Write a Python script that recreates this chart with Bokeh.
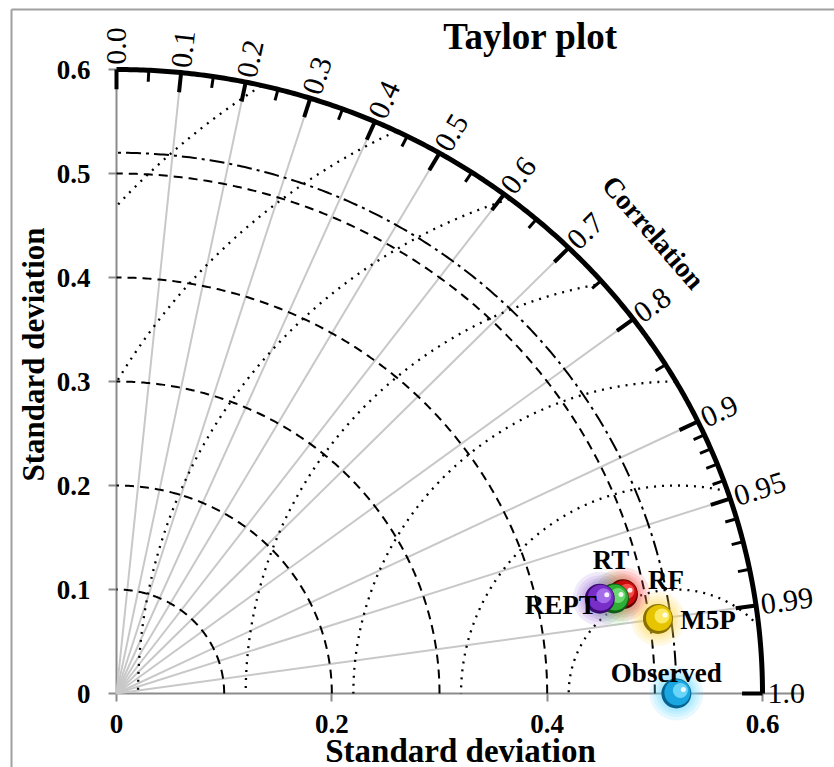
import numpy as np
from bokeh.plotting import figure
from bokeh.models import Range1d, LinearAxis, FixedTicker, ColumnDataSource
from bokeh.core.properties import value
from bokeh.embed import file_html
from bokeh.resources import INLINE

# ---------------- data ----------------
models = ["Observed", "M5P", "RF", "RT", "REPT"]
model_std = [0.520, 0.508, 0.480, 0.471, 0.458]
model_corr = [1.000, 0.990, 0.980, 0.981, 0.980]
ref_std = 0.52
max_std = 0.6

y_ticks = [0, 0.1, 0.2, 0.3, 0.4, 0.5, 0.6]
y_tick_labels = ["0", "0.1", "0.2", "0.3", "0.4", "0.5", "0.6"]
x_ticks = [0, 0.2, 0.4, 0.6]
x_tick_labels = ["0", "0.2", "0.4", "0.6"]

corr_major = [0.0, 0.1, 0.2, 0.3, 0.4, 0.5, 0.6, 0.7, 0.8, 0.9, 0.95, 0.99, 1.0]
corr_major_labels = ["0.0", "0.1", "0.2", "0.3", "0.4", "0.5", "0.6", "0.7",
                     "0.8", "0.9", "0.95", "0.99", "1.0"]
corr_minor = [0.05, 0.15, 0.25, 0.35, 0.45, 0.55, 0.65, 0.75, 0.85,
              0.91, 0.92, 0.93, 0.94, 0.96, 0.97, 0.98]
corr_lines = [0.1, 0.2, 0.3, 0.4, 0.5, 0.6, 0.7, 0.8, 0.9, 0.95, 0.99]
std_arcs = [0.1, 0.2, 0.3, 0.4, 0.5]
rmsd_arcs = [0.1, 0.2, 0.3, 0.4, 0.5, 0.6, 0.7]

# ---------------- styles ----------------
ball_base = ["#1aa6e0", "#e6c400", "#c80a0a", "#2fae35", "#7a2ec8"]
ball_dark = ["#07628f", "#8a7100", "#5e0000", "#0b5e14", "#3a0c72"]
ball_light = ["#7fe0ff", "#fff27a", "#ff5a5a", "#7ae27e", "#b07cf2"]
ball_glow = ["#5fd8ff", "#ffd84a", "#ff4a4a", "#6fd86f", "#9a6ad8"]
# label offsets (px, screen: +x right, +y down) of the text centre
lab_dx = [-10, 50, 43, -3, -39]
lab_dy = [-21, 1, -14, -38, 6]

SERIF = "Liberation Serif"
W, H = 834, 767
SX = 646 / 0.6     # px per unit, x
SY = 624 / 0.6     # px per unit, y
OX, OY = 116, 693  # page px of origin
PAGE_X, PAGE_Y = 0, 0


def px2x(px):
    return (px - OX) / SX


def py2y(py):
    return (OY - py) / SY


x_range = Range1d(px2x(PAGE_X), px2x(PAGE_X + W))
y_range = Range1d(py2y(PAGE_Y + H), py2y(PAGE_Y))

p = figure(width=W, height=H, x_range=x_range, y_range=y_range,
           output_backend="svg", toolbar_location=None,
           x_axis_type=None, y_axis_type=None, min_border=0,
           outline_line_color=None, background_fill_color="white")

# border of picture (left & top)
p.line([px2x(11), px2x(11)], [py2y(9), py2y(780)], line_color="#a0a0a0", line_width=2)
p.line([px2x(11), px2x(850)], [py2y(9), py2y(9)], line_color="#a0a0a0", line_width=2)

# ---------------- axes (std) ----------------
axis_kw = dict(axis_line_color="#8c8c8c", axis_line_width=2,
               major_tick_line_color="#8c8c8c", major_tick_line_width=2,
               major_tick_out=8, major_tick_in=0, minor_tick_line_color=None,
               major_label_text_font=SERIF, major_label_text_font_style="bold",
               major_label_text_font_size="27px", major_label_text_color="black",
               level="underlay")
yaxis = LinearAxis(fixed_location=0, bounds=(0, max_std),
                   ticker=FixedTicker(ticks=y_ticks),
                   major_label_overrides=dict(zip(y_ticks, y_tick_labels)),
                   major_label_standoff=18, **axis_kw)
xaxis = LinearAxis(fixed_location=0, bounds=(0, 0.638),
                   ticker=FixedTicker(ticks=x_ticks),
                   major_label_overrides=dict(zip(x_ticks, x_tick_labels)),
                   major_label_standoff=13, **axis_kw)
p.add_layout(yaxis, "left")
p.add_layout(xaxis, "below")

# ---------------- grid of the Taylor diagram ----------------
th_lines = np.arccos(np.array(corr_lines))
p.multi_line(xs=[[0, max_std * np.cos(t)] for t in th_lines],
             ys=[[0, max_std * np.sin(t)] for t in th_lines],
             line_color="#c8c8c8", line_width=2)

th = np.linspace(0, np.pi / 2, 300)
p.multi_line(xs=[list(r * np.cos(th)) for r in std_arcs],
             ys=[list(r * np.sin(th)) for r in std_arcs],
             line_color="black", line_width=2, line_dash="9 6")

# reference std arc (dash-dot)
p.line(ref_std * np.cos(th), ref_std * np.sin(th), line_color="black",
       line_width=2, line_dash="15 5 3 5")

# RMSD arcs centred on the reference point
phi = np.linspace(0, np.pi, 1500)
rx, ry = [], []
for r in rmsd_arcs:
    x = ref_std + r * np.cos(phi)
    y = r * np.sin(phi)
    m = (x >= 0) & (x * x + y * y <= max_std ** 2)
    rx.append(list(x[m]))
    ry.append(list(y[m]))
p.multi_line(xs=rx, ys=ry, line_color="black", line_width=2.3, line_dash="2 6")

# outer arc
p.line(max_std * np.cos(th), max_std * np.sin(th), line_color="black", line_width=5)


# ticks on the correlation arc
def tick_segments(cs, length):
    t = np.arccos(np.array(cs))
    xs = [[max_std * np.cos(a), (max_std - length) * np.cos(a)] for a in t]
    ys = [[max_std * np.sin(a), (max_std - length) * np.sin(a)] for a in t]
    return xs, ys


mx, my = tick_segments(corr_major, 0.019)
p.multi_line(xs=mx, ys=my, line_color="black", line_width=4)
nx, ny = tick_segments(corr_minor, 0.011)
p.multi_line(xs=nx, ys=ny, line_color="black", line_width=3)

# correlation labels
t_lab = np.arccos(np.array(corr_major))
r_lab = max_std + 5 / SX
corr_src = ColumnDataSource(dict(
    x=r_lab * np.cos(t_lab), y=r_lab * np.sin(t_lab), text=corr_major_labels,
    angle=np.arctan2(np.sin(t_lab) * SY, np.cos(t_lab) * SX)))
p.text(x="x", y="y", text="text", angle="angle", source=corr_src,
       text_font=value(SERIF), text_font_size=value("30px"),
       text_align="left", text_baseline="middle", text_color="black")

p.text(x=[px2x(653)], y=[py2y(232)], text=["Correlation"], angle=[np.deg2rad(-49)],
       text_font=value(SERIF), text_font_size=value("28px"), text_font_style="bold",
       text_align="center", text_baseline="middle", text_color="black")

# ---------------- model points ----------------
std = np.array(model_std)
cor = np.array(model_corr)
mxp = std * cor
myp = std * np.sqrt(np.clip(1 - cor ** 2, 0, None))

for size in (54, 47, 41, 36):
    p.scatter(mxp, myp, size=size, fill_color=ball_glow, fill_alpha=0.15, line_color=None)
for i in range(len(models)):
    p.scatter([mxp[i]], [myp[i]], size=30, fill_color=ball_dark[i], line_color=None)
    p.scatter([mxp[i] + 1 / SX], [myp[i] + 1 / SY], size=26, fill_color=ball_base[i],
              line_color=None)
    p.scatter([mxp[i] + 4 / SX], [myp[i] + 3 / SY], size=15, fill_color=ball_light[i],
              fill_alpha=0.8, line_color=None)
    p.scatter([mxp[i] + 7 / SX], [myp[i] + 4 / SY], size=5, fill_color="white",
              fill_alpha=0.9, line_color=None)

lx = mxp + np.array(lab_dx) / SX
ly = myp - np.array(lab_dy) / SY
p.text(x=lx, y=ly, text=models, text_font=value(SERIF), text_font_size=value("27px"),
       text_font_style="bold", text_align="center", text_baseline="middle",
       text_color="black")

# ---------------- titles ----------------
p.text(x=[px2x(530)], y=[py2y(36)], text=["Taylor plot"], text_font=value(SERIF),
       text_font_size=value("37px"), text_font_style="bold", text_align="center",
       text_baseline="middle", text_color="black")
p.text(x=[px2x(460)], y=[py2y(750)], text=["Standard deviation"], text_font=value(SERIF),
       text_font_size=value("33px"), text_font_style="bold", text_align="center",
       text_baseline="middle", text_color="black")
p.text(x=[px2x(33)], y=[py2y(354)], text=["Standard deviation"], angle=[np.pi / 2],
       text_font=value(SERIF), text_font_size=value("31px"), text_font_style="bold",
       text_align="center", text_baseline="middle", text_color="black")

open("out.html", "w").write(file_html(p, INLINE))
